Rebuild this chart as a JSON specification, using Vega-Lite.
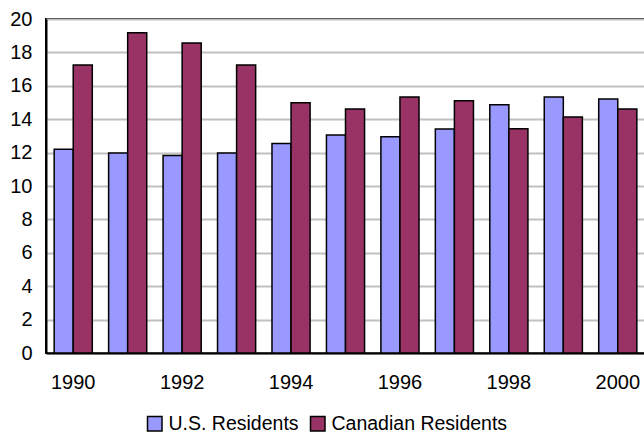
{
  "$schema": "https://vega.github.io/schema/vega-lite/v6.json",
  "width": 599,
  "height": 334,
  "autosize": "none",
  "padding": {"left": 46, "top": 19, "right": -1, "bottom": 81},
  "background": "white",
  "config": {
    "font": "Liberation Sans",
    "view": {"stroke": "black", "strokeWidth": 2}
  },
  "data": {
    "values": [
      {"year": 1990, "series": "U.S. Residents", "value": 12.2},
      {"year": 1990, "series": "Canadian Residents", "value": 17.25},
      {"year": 1991, "series": "U.S. Residents", "value": 11.97},
      {"year": 1991, "series": "Canadian Residents", "value": 19.17},
      {"year": 1992, "series": "U.S. Residents", "value": 11.83},
      {"year": 1992, "series": "Canadian Residents", "value": 18.57},
      {"year": 1993, "series": "U.S. Residents", "value": 11.97},
      {"year": 1993, "series": "Canadian Residents", "value": 17.25},
      {"year": 1994, "series": "U.S. Residents", "value": 12.55},
      {"year": 1994, "series": "Canadian Residents", "value": 14.99},
      {"year": 1995, "series": "U.S. Residents", "value": 13.05},
      {"year": 1995, "series": "Canadian Residents", "value": 14.61},
      {"year": 1996, "series": "U.S. Residents", "value": 12.95},
      {"year": 1996, "series": "Canadian Residents", "value": 15.33},
      {"year": 1997, "series": "U.S. Residents", "value": 13.41},
      {"year": 1997, "series": "Canadian Residents", "value": 15.11},
      {"year": 1998, "series": "U.S. Residents", "value": 14.87},
      {"year": 1998, "series": "Canadian Residents", "value": 13.43},
      {"year": 1999, "series": "U.S. Residents", "value": 15.33},
      {"year": 1999, "series": "Canadian Residents", "value": 14.13},
      {"year": 2000, "series": "U.S. Residents", "value": 15.21},
      {"year": 2000, "series": "Canadian Residents", "value": 14.61}
    ]
  },
  "mark": {"type": "bar", "stroke": "black", "strokeWidth": 1.5},
  "encoding": {
    "x": {
      "field": "year",
      "type": "ordinal",
      "scale": {"paddingInner": 0.3, "paddingOuter": 0.15},
      "axis": {
        "title": null,
        "labelAngle": 0,
        "labelExpr": "datum.value % 2 == 0 ? datum.label : ''",
        "labelFontSize": 20,
        "labelColor": "black",
        "labelPadding": 19,
        "ticks": false,
        "domainColor": "black",
        "domainWidth": 2,
        "grid": false
      }
    },
    "xOffset": {"field": "series", "sort": ["U.S. Residents", "Canadian Residents"]},
    "y": {
      "field": "value",
      "type": "quantitative",
      "scale": {"domain": [0, 20], "nice": false},
      "axis": {
        "title": null,
        "values": [0, 2, 4, 6, 8, 10, 12, 14, 16, 18, 20],
        "labelFontSize": 20,
        "labelColor": "black",
        "labelPadding": 14,
        "ticks": false,
        "domainColor": "black",
        "domainWidth": 2,
        "gridColor": "#c0c0c0",
        "gridWidth": 2
      }
    },
    "color": {
      "field": "series",
      "type": "nominal",
      "sort": ["U.S. Residents", "Canadian Residents"],
      "scale": {"domain": ["U.S. Residents", "Canadian Residents"], "range": ["#9999FF", "#993366"]},
      "legend": {
        "title": null,
        "orient": "none",
        "legendX": 99,
        "legendY": 395,
        "direction": "horizontal",
        "symbolType": "square",
        "symbolSize": 210,
        "symbolStrokeColor": "black",
        "symbolStrokeWidth": 1.5,
        "labelFontSize": 19.5,
        "labelLimit": 400,
        "labelColor": "black",
        "columnPadding": 8,
        "labelOffset": 4
      }
    }
  }
}
